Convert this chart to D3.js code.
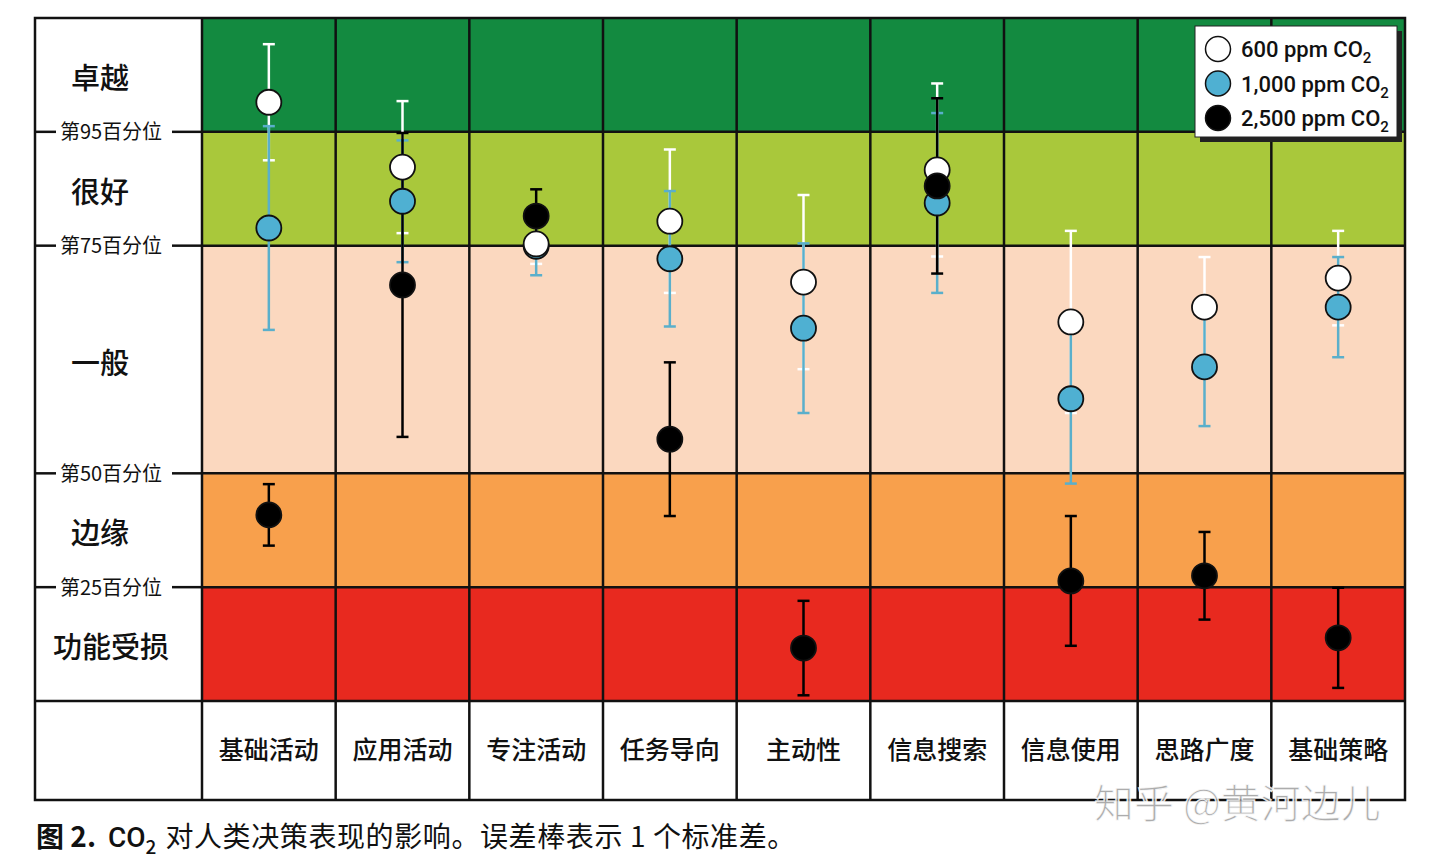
<!DOCTYPE html>
<html><head><meta charset="utf-8">
<script src="https://cdn.jsdelivr.net/npm/d3@7"></script>
<style>body{margin:0;background:#fff;}svg{display:block;font-family:"Noto Sans CJK SC","Noto Sans",sans-serif;}</style>
</head><body>
<svg id="chart" width="1440" height="864"></svg>
<script>
// ---- data ----
const categories = ["基础活动","应用活动","专注活动","任务导向","主动性","信息搜索","信息使用","思路广度","基础策略"];
const seriesNames = ["600 ppm CO","1,000 ppm CO","2,500 ppm CO"];
const ppm600  = [105.2, 93.8, 80.3, 84.3, 73.6, 93.3, 66.6, 69.2, 74.3];
const sd600   = [10.2, 11.6, 3.5, 12.6, 15.3, 15.2, 16.0, 8.8, 8.3];
const ppm1000 = [83.1, 87.8, 79.9, 77.7, 65.5, 87.5, 53.1, 58.7, 69.2];
const sd1000  = [17.9, 10.7, 5.1, 11.9, 14.9, 15.8, 14.9, 10.4, 8.8];
const ppm2500 = [32.7, 73.1, 85.2, 46.0, 9.3, 90.5, 21.1, 22.0, 11.1];
const sd2500  = [5.4, 26.7, 4.7, 13.5, 8.3, 15.4, 11.4, 7.7, 8.8];
const bandNames = ["卓越","很好","一般","边缘","功能受损"];
const bandEdges = [120, 100, 80, 40, 20, 0];
const tickValues = [100, 80, 40, 20];
const tickLabels = ["第95百分位","第75百分位","第50百分位","第25百分位"];
const caption = "对人类决策表现的影响。误差棒表示 1 个标准差。";

// ---- layout ----
const svg = d3.select("#chart");
const L = 35, R = 1405, T = 18, B = 701, Bottom = 800, leftW = 202;
const x = d3.scaleBand().domain(categories).range([leftW, R]).padding(0);
const y = d3.scaleLinear().domain([0, 120]).range([B, T]);
const bandColors = ["#138a40","#a9c83b","#fbd8bf","#f8a04c","#e8291f"];

// bands
svg.append("g").selectAll("rect").data(bandNames).join("rect")
  .attr("x", leftW).attr("width", R - leftW)
  .attr("y", (d,i) => y(bandEdges[i]))
  .attr("height", (d,i) => y(bandEdges[i+1]) - y(bandEdges[i]))
  .attr("fill", (d,i) => bandColors[i]);

// grid lines
const grid = svg.append("g").attr("stroke", "#111").attr("stroke-width", 2.5);
grid.selectAll("line.h").data(tickValues).join("line")
  .attr("x1", leftW).attr("x2", R).attr("y1", d => y(d)).attr("y2", d => y(d));
grid.selectAll("line.v").data(categories.slice(1)).join("line")
  .attr("x1", d => x(d)).attr("x2", d => x(d)).attr("y1", T).attr("y2", Bottom);
grid.append("line").attr("x1", leftW).attr("x2", leftW).attr("y1", T).attr("y2", Bottom);
grid.append("line").attr("x1", L).attr("x2", R).attr("y1", B).attr("y2", B);
grid.append("rect").attr("x", L).attr("y", T).attr("width", R - L).attr("height", Bottom - T).attr("fill", "none");

// tick marks + labels in left column
const tk = svg.append("g");
tk.selectAll("line.a").data(tickValues).join("line")
  .attr("x1", L).attr("x2", 56).attr("y1", d => y(d)).attr("y2", d => y(d))
  .attr("stroke", "#111").attr("stroke-width", 2.5);
tk.selectAll("line.b").data(tickValues).join("line")
  .attr("x1", 172).attr("x2", leftW).attr("y1", d => y(d)).attr("y2", d => y(d))
  .attr("stroke", "#111").attr("stroke-width", 2.5);
tk.selectAll("text").data(tickLabels).join("text")
  .attr("x", 111).attr("y", (d,i) => y(tickValues[i]) + 7.5)
  .attr("text-anchor", "middle").attr("font-size", 20).attr("fill", "#111")
  .text(d => d);

// band labels
svg.append("g").selectAll("text").data(bandNames).join("text")
  .attr("x", (d) => d.length > 2 ? 111 : 100)
  .attr("y", (d,i) => (y(bandEdges[i]) + y(bandEdges[i+1])) / 2 + 14)
  .attr("text-anchor", "middle").attr("font-size", 29).attr("font-weight", 500).attr("fill", "#111")
  .text(d => d);

// category labels
svg.append("g").selectAll("text").data(categories).join("text")
  .attr("x", d => x(d) + x.bandwidth() / 2).attr("y", 759)
  .attr("text-anchor", "middle").attr("font-size", 25).attr("font-weight", 500).attr("fill", "#111")
  .text(d => d);

// error bars
const series = [
  {v: ppm600, sd: sd600, bar: "#ffffff", fill: "#ffffff"},
  {v: ppm1000, sd: sd1000, bar: "#5aafcb", fill: "#4fb0d2"},
  {v: ppm2500, sd: sd2500, bar: "#000000", fill: "#000000"}
];
const cap = 6;
series.forEach(s => {
  const g = svg.append("g").attr("stroke", s.bar).attr("stroke-width", 2.5);
  categories.forEach((c, i) => {
    const cx = x(c) + x.bandwidth() / 2;
    const lo = y(s.v[i] - s.sd[i]), hi = y(s.v[i] + s.sd[i]);
    g.append("line").attr("x1", cx).attr("x2", cx).attr("y1", hi).attr("y2", lo);
    g.append("line").attr("x1", cx - cap).attr("x2", cx + cap).attr("y1", hi).attr("y2", hi);
    g.append("line").attr("x1", cx - cap).attr("x2", cx + cap).attr("y1", lo).attr("y2", lo);
  });
});

// points: blue, white, black
[series[1], series[0], series[2]].forEach(s => {
  svg.append("g").selectAll("circle").data(s.v).join("circle")
    .attr("cx", (d,i) => x(categories[i]) + x.bandwidth() / 2)
    .attr("cy", d => y(d)).attr("r", 12.5)
    .attr("fill", s.fill).attr("stroke", "#111").attr("stroke-width", 1.8);
});

// legend
const lg = svg.append("g").attr("transform", "translate(1195,26)");
lg.append("rect").attr("x", 5).attr("y", 5).attr("width", 202).attr("height", 111).attr("fill", "#222");
lg.append("rect").attr("x", 0).attr("y", 0).attr("width", 202).attr("height", 111).attr("fill", "#fff").attr("stroke", "#222").attr("stroke-width", 1);
const legFill = ["#ffffff","#4fb0d2","#000000"];
seriesNames.forEach((n, i) => {
  const yy = 23 + i * 34.5;
  lg.append("circle").attr("cx", 23).attr("cy", yy).attr("r", 12.5).attr("fill", legFill[i]).attr("stroke", "#111").attr("stroke-width", 1.5);
  const t = lg.append("text").attr("x", 46).attr("y", yy + 8).attr("font-size", 22).attr("fill", "#111")
    .attr("font-weight", 500).attr("font-family", "Roboto, 'Noto Sans', sans-serif");
  t.append("tspan").text(n);
  t.append("tspan").attr("font-size", 15).attr("dy", 6).text("2");
});

// caption
const cap1 = svg.append("text").attr("x", 36).attr("y", 847).attr("font-size", 28).attr("fill", "#111");
cap1.append("tspan").attr("font-weight", 700).text("图 2.");
cap1.append("tspan").attr("dx", 12).attr("font-family", "Roboto, sans-serif").attr("font-weight", 500).text("CO");
cap1.append("tspan").attr("font-size", 19).attr("dy", 7).attr("font-weight", 500).text("2");
cap1.append("tspan").attr("dy", -7).attr("dx", 9).attr("letter-spacing", 0.6).text(caption);

// watermark
svg.append("text").attr("x", 1094).attr("y", 818).attr("font-size", 40)
  .attr("fill", "rgba(150,150,150,0.8)").attr("stroke", "rgba(255,255,255,0.85)").attr("stroke-width", 1.5)
  .text("知乎 @黄河边儿");
</script>
</body></html>
